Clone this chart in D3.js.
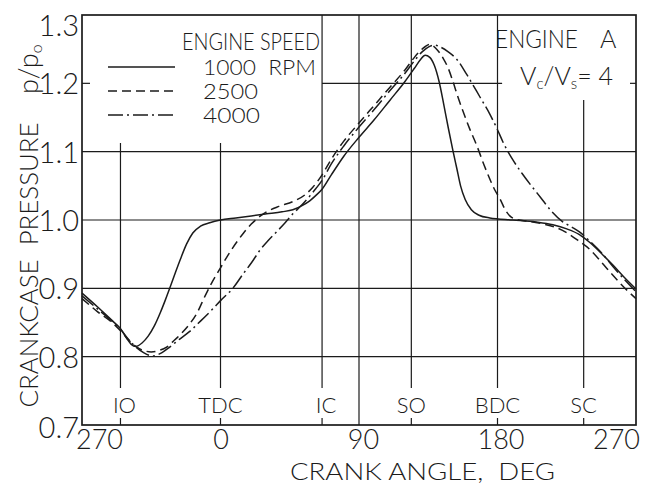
<!DOCTYPE html>
<html>
<head>
<meta charset="utf-8">
<script src="https://cdn.jsdelivr.net/npm/d3@7"></script>
<style>
  body { margin: 0; background: #fff; }
  svg { display: block; font-family: Lato, "DejaVu Sans", sans-serif; font-weight: 300; }
  text { white-space: pre; }
</style>
</head>
<body>
<svg id="chart" width="654" height="486"></svg>
<script>
// crank angle in deg (-90 is the "270" at the left edge) and p/p0
let rpm1000 = [[-90,0.893],[-80,0.873],[-70,0.852],[-65,0.841],[-61,0.827],[-58,0.818],[-55,0.815],[-51,0.82],[-47,0.83],
        [-43,0.845],[-39,0.865],[-36,0.882],[-33,0.9],[-29,0.925],[-26,0.943],[-22,0.965],[-18,0.981],[-13,0.991],[-7,0.996],
        [0,1.0],[10,1.003],[20,1.006],[30,1.009],[40,1.012],[47,1.015],[53,1.021],[58,1.028],[62,1.036],[66,1.045],[72,1.066],
        [80,1.093],[90,1.121],[100,1.147],[110,1.175],[120,1.203],[126,1.222],[130,1.235],[133,1.241],[136,1.238],[139,1.226],
        [142,1.203],[145,1.17],[148,1.135],[151,1.102],[153.6,1.075],[156,1.05],[159,1.03],[163,1.015],[168,1.007],[175,1.003],
        [190,1.0],[205,0.997],[216,0.993],[225,0.987],[233,0.979],[240,0.967],[248,0.95],[255,0.934],[262,0.917],[270,0.899]];
let rpm2500 = [[-90,0.885],[-80,0.866],[-70,0.849],[-65,0.838],[-60,0.825],[-55,0.815],[-50,0.809],[-45,0.807],[-40,0.809],
        [-35,0.814],[-30,0.824],[-25,0.835],[-20,0.848],[-15,0.865],[-10,0.889],[-5,0.911],[0,0.93],[5,0.949],[10,0.966],
        [15,0.981],[20,0.994],[26,1.006],[30,1.012],[38,1.02],[47,1.027],[55,1.037],[60,1.048],[66,1.066],[72,1.089],[80,1.115],
        [90,1.142],[100,1.168],[110,1.194],[120,1.22],[126,1.238],[131,1.25],[136,1.257],[140,1.251],[144.6,1.237],[148,1.222],
        [151,1.203],[154,1.182],[157.6,1.159],[162,1.133],[166.7,1.108],[171,1.082],[175,1.06],[178,1.045],[181.6,1.031],
        [185,1.015],[188,1.006],[192,1.001],[200,0.998],[210,0.994],[218,0.989],[226,0.98],[233,0.969],[240,0.957],[248,0.937],
        [255,0.919],[262,0.902],[270,0.885]];
let rpm4000 = [[-90,0.889],[-80,0.87],[-70,0.851],[-65,0.84],[-60,0.826],[-55,0.814],[-50,0.806],[-44,0.801],[-38,0.806],
        [-33,0.814],[-27,0.825],[-20,0.837],[-13,0.852],[-5,0.87],[0,0.882],[8,0.9],[15,0.922],[20,0.937],[26,0.957],[31,0.97],
        [37,0.984],[42,0.996],[47,1.009],[52,1.02],[58,1.035],[62,1.046],[66,1.058],[72,1.082],[80,1.108],[90,1.136],[100,1.162],
        [110,1.189],[120,1.215],[126,1.233],[131,1.246],[135,1.253],[139,1.256],[143,1.253],[148,1.246],[153.6,1.235],[160,1.213],
        [168.6,1.18],[175,1.155],[179.6,1.134],[184,1.112],[190,1.088],[196,1.068],[202,1.05],[208,1.033],[215,1.013],[222,0.998],
        [228,0.99],[233,0.983],[240,0.969],[248,0.951],[255,0.932],[262,0.914],[270,0.895]];

let speedLabels = ["1000  RPM", "2500", "4000"];
let xTicks = [-90, 0, 90, 180, 270];
let xTickLabels = ["270", "0", "90", "180", "270"];
let yTicks = [0.7, 0.8, 0.9, 1.0, 1.1, 1.2, 1.3];
let events = ["IO", "TDC", "IC", "SO", "BDC", "SC"];
let eventAngles = [-65, 0, 66, 124, 180, 236];

let ink = "#1b1b1b";
let svg = d3.select("#chart");

let x = d3.scaleLinear().domain([-90, 270]).range([82, 636]);
let y = d3.scaleLinear().domain([0.7, 1.3]).range([425, 15]);

let grid = svg.append("g")
        .attr("stroke", ink)
        .attr("stroke-width", 1.2)
        .attr("fill", "none");

// horizontal grid, 1.2 is broken by the legend and the engine note
[0.8, 0.9, 1.0, 1.1].forEach(v => {
        grid.append("line").attr("x1", x(-90)).attr("x2", x(270)).attr("y1", y(v)).attr("y2", y(v));
});
grid.append("line").attr("x1", x(66)).attr("x2", x(183)).attr("y1", y(1.2)).attr("y2", y(1.2));
grid.append("line").attr("x1", x(-90)).attr("x2", x(-90) + 8).attr("y1", y(1.2)).attr("y2", y(1.2));
grid.append("line").attr("x1", x(270) - 6).attr("x2", x(270)).attr("y1", y(1.2)).attr("y2", y(1.2));

// vertical grid: port events and 90 deg
let lineTop = {IO: 143, TDC: 143, SC: 100};
events.forEach((e, i) => {
        let px = x(eventAngles[i]);
        grid.append("line").attr("x1", px).attr("x2", px).attr("y1", lineTop[e] || y(1.3)).attr("y2", 388);
        grid.append("line").attr("x1", px).attr("x2", px).attr("y1", y(0.7) - 7).attr("y2", y(0.7));
});
grid.append("line").attr("x1", x(90)).attr("x2", x(90)).attr("y1", y(1.3)).attr("y2", y(0.7));

svg.append("rect")
        .attr("x", x(-90)).attr("y", y(1.3))
        .attr("width", x(270) - x(-90)).attr("height", y(0.7) - y(1.3))
        .attr("fill", "none").attr("stroke", ink).attr("stroke-width", 1.7);

svg.append("g")
        .attr("font-size", 22)
        .attr("fill", ink)
        .attr("text-anchor", "middle")
        .selectAll("text")
        .data(events)
        .join("text")
        .attr("x", (d, i) => x(eventAngles[i]) + (d[0] === "I" ? 4 : 0))
        .attr("y", 413)
        .text(d => d);

// axes
let xAxis = svg.append("g")
        .attr("transform", `translate(0,${y(0.7)})`)
        .call(d3.axisBottom(x).tickValues(xTicks).tickFormat((d, i) => xTickLabels[i]).tickSize(0).tickPadding(5))
        .attr("font-family", null)
        .attr("font-size", null);
let xShift = [17, 0, 4, 3, -20];
xAxis.selectAll("text")
        .attr("font-size", 27).attr("fill", ink)
        .attr("x", (d, i) => xShift[i]);

let yAxis = svg.append("g")
        .attr("transform", `translate(${x(-90)},0)`)
        .call(d3.axisLeft(y).tickValues(yTicks).tickFormat(d3.format(".1f")).tickSize(0).tickPadding(3))
        .attr("font-family", null)
        .attr("font-size", null);
yAxis.selectAll("text")
        .attr("font-size", 29).attr("fill", ink)
        .attr("dy", d => d === 1.3 ? "0.72em" : d === 0.7 ? "0.42em" : "0.36em");
svg.selectAll(".domain").remove();

// curves
let line = d3.line()
        .x(d => x(d[0]))
        .y(d => y(d[1]))
        .curve(d3.curveMonotoneX);
let dashes = [null, "9,5", "15,4,2,4"];
[rpm1000, rpm2500, rpm4000].forEach((s, i) => {
        svg.append("path")
                .datum(s)
                .attr("d", line)
                .attr("fill", "none")
                .attr("stroke", ink)
                .attr("stroke-width", 1.5)
                .attr("stroke-dasharray", dashes[i]);
});

// legend
let legend = svg.append("g").attr("fill", ink);
legend.append("text")
        .attr("x", 182).attr("y", 50)
        .attr("font-size", 23)
        .attr("textLength", 138).attr("lengthAdjust", "spacingAndGlyphs")
        .text("ENGINE SPEED");
let legendY = [67, 91, 115];
let legendLen = [113, 55, 57];
speedLabels.forEach((s, i) => {
        legend.append("line")
                .attr("x1", 108).attr("x2", 175)
                .attr("y1", legendY[i]).attr("y2", legendY[i])
                .attr("stroke", ink).attr("stroke-width", 1.5)
                .attr("stroke-dasharray", dashes[i]);
        legend.append("text")
                .attr("x", 203).attr("y", legendY[i] + 8)
                .attr("font-size", 21)
                .attr("textLength", legendLen[i]).attr("lengthAdjust", "spacingAndGlyphs")
                .text(s);
});

// engine note
let note = svg.append("g").attr("fill", ink).attr("font-size", 25);
note.append("text").attr("x", 495).attr("y", 48)
        .attr("textLength", 83).attr("lengthAdjust", "spacingAndGlyphs").text("ENGINE");
note.append("text").attr("x", 600).attr("y", 48).text("A");
let ratio = note.append("text").attr("x", 520).attr("y", 85);
ratio.append("tspan").text("V");
ratio.append("tspan").attr("font-size", 15).attr("dy", 4).text("c");
ratio.append("tspan").attr("dy", -4).text("/V");
ratio.append("tspan").attr("font-size", 15).attr("dy", 4).text("s");
ratio.append("tspan").attr("dy", -4).text("= 4");

// axis titles
svg.append("text")
        .attr("transform", "translate(38,265) rotate(-90)")
        .attr("text-anchor", "middle")
        .attr("font-size", 25).attr("fill", ink)
        .attr("textLength", 285).attr("lengthAdjust", "spacingAndGlyphs")
        .text("CRANKCASE  PRESSURE");
let pp = svg.append("text")
        .attr("transform", "translate(38,94) rotate(-90)")
        .attr("font-size", 27).attr("fill", ink);
pp.append("tspan").text("p/p");
pp.append("tspan").attr("font-size", 16).attr("dy", 4).text("o");

svg.append("text")
        .attr("x", 290).attr("y", 480)
        .attr("font-size", 24).attr("fill", ink)
        .attr("textLength", 265).attr("lengthAdjust", "spacingAndGlyphs")
        .text("CRANK ANGLE,  DEG");
</script>
</body>
</html>
